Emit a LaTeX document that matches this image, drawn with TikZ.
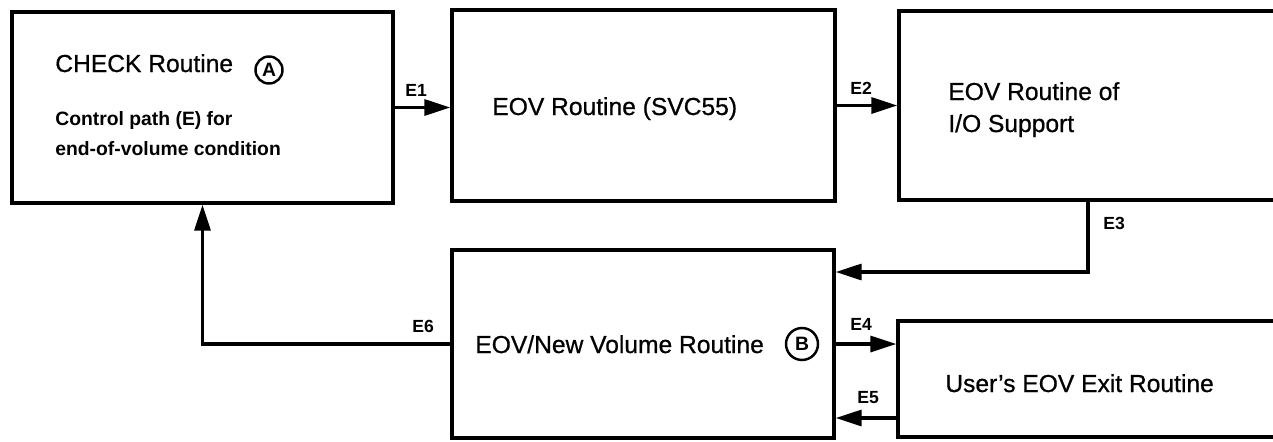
\documentclass[tikz,border=0pt]{standalone}
\usepackage{fontspec}
\setmainfont{Liberation Sans}
\newfontfamily\mediumsans[FakeBold=0.7,Ligatures=TeX]{Liberation Sans}
\usepackage{tikz}
\usetikzlibrary{arrows.meta,positioning}

\tikzset{
  routine/.style={draw, line width=1.9pt, inner sep=0pt},
  flow/.style={line width=1.8pt, -{Triangle[length=0.52cm, width=0.32cm]}},
  title/.style={anchor=base west, inner sep=0pt, font=\mediumsans\fontsize{14}{16}\selectfont},
  note/.style={anchor=base west, inner sep=0pt, font=\bfseries\fontsize{11}{13}\selectfont},
  tag/.style={anchor=base west, inner sep=0pt, font=\bfseries\fontsize{10}{12}\selectfont},
  ringed/.style={draw, circle, line width=1.4pt, inner sep=0pt, font=\bfseries\fontsize{11}{12}\selectfont}
}

\begin{document}
\begin{tikzpicture}
    \useasboundingbox (0,0) rectangle (25.46,8.82);

    % boxes
    \node[routine, minimum width=7.62cm, minimum height=3.82cm] (check) at (4.05,6.67) {};
    \node[routine, minimum width=7.66cm, minimum height=3.82cm] (svc) at (12.87,6.71) {};
    \node[routine, minimum width=8.52cm, minimum height=3.78cm] (iosup) at (22.24,6.71) {};
    \node[routine, minimum width=7.64cm, minimum height=3.76cm] (newvol) at (12.86,1.94) {};
    \node[routine, minimum width=8.54cm, minimum height=2.32cm] (userexit) at (22.23,1.24) {};

    \node[title] (checktxt) at (1.10,7.38) {CHECK Routine};
    \node[ringed, minimum size=0.54cm] (ringA) at (5.38,7.42) {A};
    \node[note] (ctrltxt) at (1.10,6.32) {Control path (E) for};
    \node[note] (eovtxt) at (1.10,5.72) {end-of-volume condition};
    \node[title] (svctxt) at (9.84,6.52) {EOV Routine (SVC55)};
    \node[title] (iotxt) at (18.96,6.82) {EOV Routine of};
    \node[title] (iotxtb) at (18.96,6.18) {I/O Support};
    \node[title] (newvoltxt) at (9.50,1.76) {EOV/New Volume Routine};
    \node[ringed, minimum size=0.64cm] (ringB) at (16.04,1.94) {B};
    \node[title] (usertxt) at (18.90,0.98) {User’s EOV Exit Routine};

    % connectors
    \coordinate (turnE3) at (21.76,3.38);
    \coordinate (backE5) at (17.96,0.46);
    \draw[flow] (check.east) -- (check.east -| svc.west);
    \draw[flow] (svc.east) -- (svc.east -| iosup.west);
    \draw[flow] (turnE3 |- iosup.south) -- (turnE3) -- (turnE3 -| newvol.east);
    \draw[flow] (newvol.east) -- (newvol.east -| userexit.west);
    \draw[flow] (backE5 -| userexit.west) -- (backE5 -| newvol.east);
    \draw[flow] (newvol.west) -- (newvol.west -| check.south) -- (check.south);

    \node[tag] (e1) at (8.10,6.90) {E1};
    \node[tag] (e2) at (17.00,6.94) {E2};
    \node[tag] (e3) at (22.06,4.24) {E3};
    \node[tag] (e4) at (17.00,2.22) {E4};
    \node[tag] (e5) at (17.14,0.76) {E5};
    \node[tag] (e6) at (8.24,2.18) {E6};
\end{tikzpicture}
\end{document}
